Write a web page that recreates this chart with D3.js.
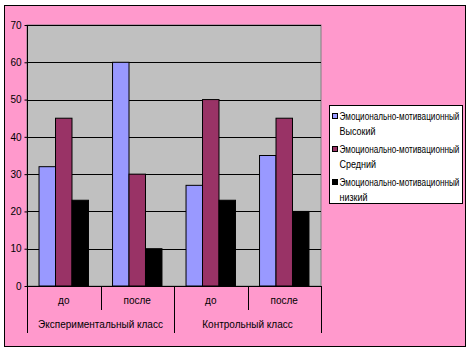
<!DOCTYPE html>
<html>
<head>
<meta charset="utf-8">
<script src="https://cdn.jsdelivr.net/npm/d3@7"></script>
<style>
  body { margin: 0; background: #fff; }
  text { font-family: Arial, "Liberation Sans", sans-serif; fill: #000; }
</style>
</head>
<body>
<div id="chart"></div>
<script>
// data
const groups = ['Экспериментальный класс', 'Контрольный класс'];
const categories = ['до', 'после', 'до', 'после'];
const categoryGroup = [0, 0, 1, 1];
const seriesNames = [
    ['Эмоционально-мотивационный', 'Высокий'],
    ['Эмоционально-мотивационный', 'Средний'],
    ['Эмоционально-мотивационный', 'низкий']
];
const seriesColors = ['#9999FF', '#993366', '#000000'];
const high = [32, 60, 27, 35];
const middle = [45, 30, 50, 45];
const low = [23, 10, 23, 20];
const yTicks = [0, 10, 20, 30, 40, 50, 60, 70];

const series = [high, middle, low];

const W = 470, H = 352;
const plot = {left: 27, top: 25, right: 321, bottom: 286};

const svg = d3.select('#chart').append('svg')
    .attr('width', W)
    .attr('height', H);

// chart area background
svg.append('rect')
    .attr('x', 4.5).attr('y', 5.5)
    .attr('width', 461).attr('height', 341)
    .style('fill', '#FF99CC')
    .style('stroke', '#000')
    .style('stroke-width', 1);

// plot area
svg.append('rect')
    .attr('x', plot.left).attr('y', plot.top)
    .attr('width', plot.right - plot.left).attr('height', plot.bottom - plot.top)
    .style('fill', '#C0C0C0')
    .style('stroke', '#808080')
    .style('stroke-width', 1);

const y = d3.scaleLinear()
    .domain([0, 70])
    .range([plot.bottom, plot.top]);

const x = d3.scaleBand()
    .domain(d3.range(categories.length))
    .range([plot.left, plot.right]);

const xInner = d3.scaleBand()
    .domain(d3.range(series.length))
    .range([0, x.bandwidth()])
    .paddingOuter(0.73);

// gridlines
svg.append('g')
    .selectAll('line')
    .data(yTicks.slice(1))
    .join('line')
    .attr('x1', plot.left).attr('x2', plot.right)
    .attr('y1', d => Math.round(y(d)) + 0.5)
    .attr('y2', d => Math.round(y(d)) + 0.5)
    .style('stroke', '#000')
    .style('stroke-width', 1);

// bars
const barData = [];
series.forEach((vals, s) => vals.forEach((v, c) => barData.push({s, c, v})));

svg.append('g')
    .selectAll('rect')
    .data(barData)
    .join('rect')
    .attr('x', d => x(d.c) + xInner(d.s))
    .attr('y', d => y(d.v))
    .attr('width', xInner.bandwidth())
    .attr('height', d => y(0) - y(d.v))
    .style('fill', d => seriesColors[d.s])
    .style('stroke', '#000')
    .style('stroke-width', 1);

// y axis
const yAxis = svg.append('g')
    .attr('transform', `translate(${plot.left + 0.5},0)`)
    .call(d3.axisLeft(y).tickValues(yTicks).tickSize(3).tickPadding(3));
yAxis.select('.domain').attr('d', `M0,${plot.top}V${plot.bottom}`).style('stroke', '#000');
yAxis.selectAll('text').style('font-size', '10px').attr('font-family', null);

// category axis
svg.append('line')
    .attr('x1', plot.left).attr('x2', plot.right)
    .attr('y1', plot.bottom + 0.5).attr('y2', plot.bottom + 0.5)
    .style('stroke', '#000');

const separators = d3.range(categories.length + 1);
svg.append('g')
    .selectAll('line')
    .data(separators)
    .join('line')
    .attr('x1', d => Math.round(d === categories.length ? plot.right : x(d)) + 0.5)
    .attr('x2', d => Math.round(d === categories.length ? plot.right : x(d)) + 0.5)
    .attr('y1', plot.bottom)
    .attr('y2', d => d % 2 === 0 ? 333 : 310)
    .style('stroke', '#000');

svg.append('g')
    .selectAll('text')
    .data(categories)
    .join('text')
    .attr('x', (d, i) => x(i) + x.bandwidth() / 2)
    .attr('y', 304)
    .attr('text-anchor', 'middle')
    .style('font-size', '10px')
    .text(d => d);

svg.append('g')
    .selectAll('text')
    .data(groups)
    .join('text')
    .attr('x', (d, g) => {
        const idx = categoryGroup.map((cg, i) => cg === g ? i : -1).filter(i => i >= 0);
        return (x(idx[0]) + x(idx[idx.length - 1]) + x.bandwidth()) / 2;
    })
    .attr('y', 328)
    .attr('text-anchor', 'middle')
    .style('font-size', '10px')
    .text(d => d);

// legend
const legend = svg.append('g')
    .attr('transform', 'translate(329.5,105.5)');

legend.append('rect')
    .attr('width', 133).attr('height', 98)
    .style('fill', '#fff')
    .style('stroke', '#000');

seriesNames.forEach((lines, i) => {
    const ly = 14 + i * 33;
    legend.append('rect')
        .attr('x', 3).attr('y', ly - 6)
        .attr('width', 5).attr('height', 5)
        .style('fill', seriesColors[i])
        .style('stroke', '#000');
    lines.forEach((t, k) => {
        const txt = legend.append('text')
            .attr('x', 0)
            .attr('y', 0)
            .style('font-size', '10px')
            .text(t);
        // squeeze the long first line horizontally so it fits the box like the original
        const w = txt.node().getComputedTextLength();
        const sx = k === 0 ? Math.min(1, 120 / w) : 0.9;
        txt.attr('transform', `translate(10,${ly + k * 15}) scale(${sx},1)`);
    });
});
</script>
</body>
</html>
